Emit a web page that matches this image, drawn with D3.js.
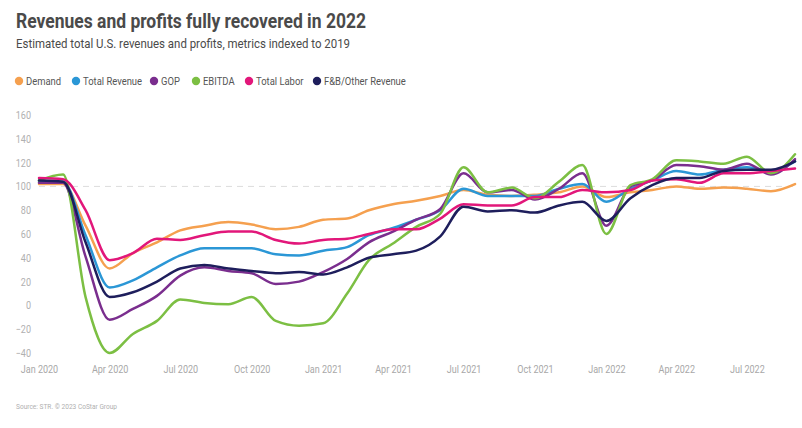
<!DOCTYPE html>
<html>
<head>
<meta charset="utf-8">
<script src="https://cdn.jsdelivr.net/npm/d3@7"></script>
<style>
  html, body { margin: 0; padding: 0; background: #fff; }
  svg { display: block; font-family: Roboto, "Liberation Sans", sans-serif; }
</style>
</head>
<body>
<svg id="chart" width="802" height="428"></svg>
<script>
// ---------- DATA ----------
const months = d3.timeMonths(new Date(2020, 0, 1), new Date(2022, 9, 1)); // Jan 2020 .. Sep 2022

const seriesNames = ["Demand", "Total Revenue", "GOP", "EBITDA", "Total Labor", "F&B/Other Revenue"];
const seriesColors = ["#F5A04F", "#2B97D6", "#7A2E8E", "#7CBF43", "#E2177A", "#1E1E5C"];

const demand       = [102, 102, 67, 31, 44, 53, 63, 67, 70, 68, 64, 66, 72, 73, 80, 85, 88, 92, 97, 93, 92, 93, 95, 100, 91, 95, 97, 100, 98, 99, 98, 96, 102];
const totalRevenue = [104, 104, 59, 15, 21, 32, 42, 48, 48, 48, 43, 42, 46, 49, 59, 65, 72, 80, 98, 92, 92, 92, 98, 102, 87, 98, 105, 113, 110, 114, 116, 113, 121];
const gop          = [103, 103, 41, -12, -3, 8, 25, 32, 29, 27, 18, 20, 28, 39, 53, 62, 72, 81, 111, 95, 97, 89, 98, 111, 67, 100, 105, 118, 117, 114, 119, 110, 123];
const ebitda       = [105, 110, 7, -40, -24, -13, 5, 2, 1, 7, -13, -17, -15, 10, 38, 52, 66, 77, 116, 95, 99, 90, 104, 118, 60, 101, 106, 122, 121, 119, 125, 111, 127];
const totalLabor   = [107, 106, 80, 38, 44, 56, 55, 59, 62, 62, 55, 52, 55, 56, 60, 64, 64, 73, 85, 84, 84, 91, 91, 97, 95, 97, 105, 106, 103, 111, 111, 113, 115];
const fbOther      = [105, 104, 53, 7, 11, 20, 31, 34, 31, 29, 27, 28, 26, 32, 40, 43, 46, 58, 83, 79, 80, 78, 84, 87, 71, 90, 101, 107, 107, 113, 114, 114, 121];

const seriesValues = [demand, totalRevenue, gop, ebitda, totalLabor, fbOther];
const yTicks = [-40, -20, 0, 20, 40, 60, 80, 100, 120, 140, 160];
const baselineValue = 100;

const titleText = "Revenues and profits fully recovered in 2022";
const subtitleText = "Estimated total U.S. revenues and profits, metrics indexed to 2019";
const sourceText = "Source: STR. © 2023 CoStar Group";

// ---------- LAYOUT ----------
const svg = d3.select("#chart");
const CONDENSE = 0.82;

function condense(sel, f) {
  sel.each(function () {
    const w = this.getComputedTextLength();
    d3.select(this).attr("textLength", w * f).attr("lengthAdjust", "spacingAndGlyphs");
  });
}

// Title & subtitle
svg.append("text")
  .attr("x", 16).attr("y", 28)
  .attr("font-size", 20).attr("font-weight", 700).attr("fill", "#4a4a4a")
  .text(titleText)
  .attr("textLength", 350).attr("lengthAdjust", "spacingAndGlyphs");

svg.append("text")
  .attr("x", 16).attr("y", 48)
  .attr("font-size", 13).attr("fill", "#4a4a4a")
  .text(subtitleText)
  .attr("textLength", 334).attr("lengthAdjust", "spacingAndGlyphs");

// Legend
const legendX = [19, 76, 154, 196, 249, 317];
const legend = svg.append("g");
seriesNames.forEach((name, i) => {
  legend.append("circle")
    .attr("cx", legendX[i]).attr("cy", 81).attr("r", 4.2)
    .attr("fill", seriesColors[i]);
  legend.append("text")
    .attr("x", legendX[i] + 7).attr("y", 85)
    .attr("font-size", 11.5).attr("fill", "#555")
    .text(name)
    .call(condense, CONDENSE);
});

// Scales
const x = d3.scaleTime()
  .domain([months[0], months[months.length - 1]])
  .range([39, 795]);
const y = d3.scaleLinear()
  .domain([-40, 160])
  .range([353, 115]);

// Y axis labels
const yAxis = svg.append("g")
  .attr("transform", "translate(31,0)")
  .call(d3.axisLeft(y).tickValues(yTicks).tickSize(0).tickPadding(0));
yAxis.select(".domain").remove();
yAxis.selectAll("text")
  .attr("font-family", "Roboto, sans-serif")
  .attr("font-size", 11).attr("fill", "#b0b0b0")
  .call(condense, CONDENSE);

// X axis labels
const xAxis = svg.append("g")
  .attr("transform", "translate(0,365)")
  .call(d3.axisBottom(x).ticks(d3.timeMonth.every(3)).tickFormat(d3.timeFormat("%b %Y")).tickSize(0).tickPadding(0));
xAxis.select(".domain").remove();
xAxis.selectAll("text")
  .attr("font-family", "Roboto, sans-serif")
  .attr("font-size", 11).attr("fill", "#a8a8a8")
  .call(condense, CONDENSE);

// Baseline at 100
svg.append("line")
  .attr("x1", x.range()[0]).attr("x2", x.range()[1])
  .attr("y1", y(baselineValue)).attr("y2", y(baselineValue))
  .attr("stroke", "#dcdcdc").attr("stroke-width", 1)
  .attr("stroke-dasharray", "6,5");

// Lines
const line = d3.line()
  .x((d, i) => x(months[i]))
  .y(d => y(d))
  .curve(d3.curveMonotoneX);

const lines = svg.append("g");
seriesValues.forEach((vals, i) => {
  lines.append("path")
    .datum(vals)
    .attr("d", line)
    .attr("fill", "none")
    .attr("stroke", seriesColors[i])
    .attr("stroke-width", 2.5)
    .attr("stroke-linejoin", "round")
    .attr("stroke-linecap", "round");
});

// Source
svg.append("text")
  .attr("x", 16).attr("y", 409)
  .attr("font-size", 8).attr("fill", "#b0b0b0")
  .text(sourceText)
  .call(condense, CONDENSE);
</script>
</body>
</html>
